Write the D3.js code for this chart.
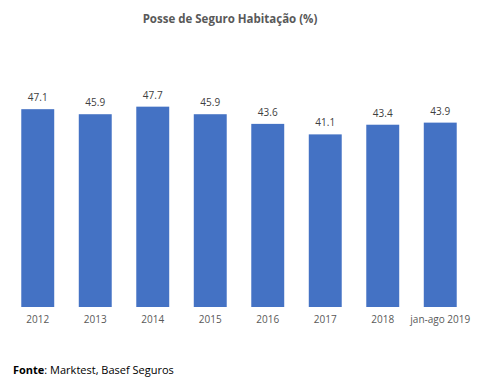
<!DOCTYPE html>
<html>
<head>
<meta charset="utf-8">
<script src="https://cdn.jsdelivr.net/npm/d3@7"></script>
<style>
  body { margin: 0; background: #fff; }
  text { font-family: "Open Sans", "Noto Sans", sans-serif; }
</style>
</head>
<body>
<div id="chart"></div>
<script>
// data
var categories = ['2012', '2013', '2014', '2015', '2016', '2017', '2018', 'jan-ago 2019'];
var values = [47.1, 45.9, 47.7, 45.9, 43.6, 41.1, 43.4, 43.9];

var svgWidth = 481;
var svgHeight = 387;

var svg = d3.select('#chart')
    .append('svg')
    .attr('width', svgWidth)
    .attr('height', svgHeight);

var xScale = d3.scaleBand()
    .domain(categories)
    .range([9, 469])
    .paddingInner(0.427)
    .paddingOuter(0.2135);

var yScale = d3.scaleLinear()
    .domain([0, 50])
    .range([307, 97]);

var data = categories.map(function(c, i) { return {cat: c, val: values[i]}; });

// title
svg.append('text')
    .attr('x', 230)
    .attr('y', 23)
    .attr('text-anchor', 'middle')
    .attr('font-size', '11.5px')
    .attr('font-weight', 'bold')
    .attr('fill', '#595959')
    .text('Posse de Seguro Habitação (%)');

// bars
svg.append('g').selectAll('rect')
    .data(data)
    .enter()
    .append('rect')
    .attr('x', d => xScale(d.cat))
    .attr('y', d => yScale(d.val))
    .attr('width', xScale.bandwidth())
    .attr('height', d => yScale(0) - yScale(d.val))
    .attr('fill', '#4472C4');

// value labels
svg.append('g').selectAll('text')
    .data(data)
    .enter()
    .append('text')
    .attr('x', d => xScale(d.cat) + xScale.bandwidth() / 2)
    .attr('y', d => yScale(d.val) - 8)
    .attr('text-anchor', 'middle')
    .attr('font-size', '10px')
    .attr('fill', '#404040')
    .text(d => d.val.toFixed(1));

// x axis (labels only)
var bottomAxis = d3.axisBottom(xScale).tickSize(0).tickPadding(9);
var xAxisG = svg.append('g')
    .attr('transform', 'translate(0,307)')
    .call(bottomAxis);
xAxisG.select('.domain').remove();
xAxisG.selectAll('text')
    .attr('font-family', '"Open Sans", "Noto Sans", sans-serif')
    .attr('font-size', '10px')
    .attr('fill', '#595959');

// source
var src = svg.append('text')
    .attr('x', 13)
    .attr('y', 374)
    .attr('font-size', '11px')
    .attr('fill', '#000');
src.append('tspan').attr('font-weight', 'bold').text('Fonte');
src.append('tspan').text(': Marktest, Basef Seguros');
</script>
</body>
</html>
